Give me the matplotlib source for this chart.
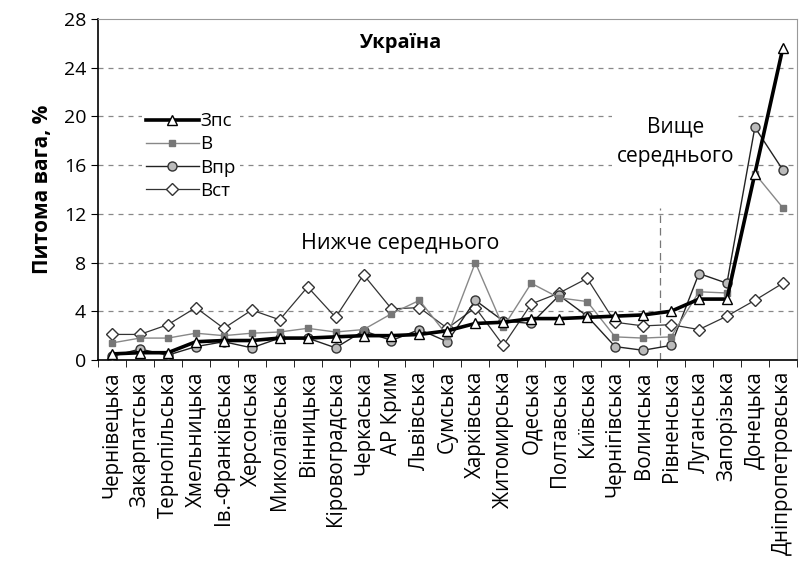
import numpy as np
import matplotlib
matplotlib.use('Agg')
import matplotlib.pyplot as plt

plt.rcParams['font.family'] = ['Open Sans', 'DejaVu Sans']

# Data
regions = ['Чернівецька', 'Закарпатська', 'Тернопільська', 'Хмельницька', 'Ів.-Франківська',
           'Херсонська', 'Миколаївська', 'Вінницька', 'Кіровоградська', 'Черкаська',
           'АР Крим', 'Львівська', 'Сумська', 'Харківська', 'Житомирська',
           'Одеська', 'Полтавська', 'Київська', 'Чернігівська', 'Волинська',
           'Рівненська', 'Луганська', 'Запорізька', 'Донецька', 'Дніпропетровська']
zps = [0.5, 0.6, 0.6, 1.5, 1.6, 1.6, 1.8, 1.8, 1.9, 2.0, 2.0, 2.1, 2.4, 3.0, 3.1,
       3.4, 3.4, 3.5, 3.6, 3.7, 4.0, 5.0, 5.0, 15.3, 25.6]
v = [1.4, 1.8, 1.8, 2.2, 2.0, 2.2, 2.3, 2.6, 2.3, 2.5, 3.8, 4.9, 2.0, 8.0, 2.7,
     6.3, 5.1, 4.8, 1.9, 1.8, 1.9, 5.6, 5.5, 15.3, 12.5]
vpr = [0.3, 0.9, 0.4, 1.1, 1.5, 1.0, 1.8, 1.8, 1.0, 2.4, 1.6, 2.5, 1.5, 4.9, 3.2,
       3.0, 5.3, 3.6, 1.1, 0.8, 1.2, 7.1, 6.3, 19.1, 15.6]
vst = [2.1, 2.1, 2.9, 4.3, 2.6, 4.1, 3.3, 6.0, 3.5, 7.0, 4.2, 4.3, 2.6, 4.3, 1.2,
       4.6, 5.5, 6.7, 3.1, 2.8, 2.9, 2.5, 3.6, 4.9, 6.3]

x = np.arange(len(regions))

fig = plt.figure(figsize=(8, 5.71), dpi=100)
ax = fig.add_axes([0.1225, 0.3695, 0.8735, 0.5975])

# grid
for yv in range(4, 28, 4):
    ax.axhline(yv, color='#888888', lw=0.9, ls=(0, (4, 4)), zorder=0)
ax.plot([19.6, 19.6], [0, 12.5], color='#777777', lw=0.9, ls=(0, (6, 4)), zorder=0)

ax.plot(x, vst, color='#333333', lw=0.9, marker='D', ms=6.5, mfc='white', mec='#333333',
        mew=1.0, label='Вст', zorder=2)
ax.plot(x, vpr, color='#222222', lw=1.0, marker='o', ms=6.5, mfc='#bbbbbb', mec='#333333',
        mew=1.0, label='Впр', zorder=3)
ax.plot(x, v, color='#888888', lw=1.0, marker='s', ms=4.5, mfc='#777777', mec='#777777',
        label='В', zorder=3)
ax.plot(x, zps, color='black', lw=2.6, marker='^', ms=7.5, mfc='white', mec='black',
        mew=1.0, label='Зпс', zorder=4)

ax.set_xlim(-0.5, len(regions) - 0.5)
ax.set_ylim(0, 28)
ax.set_yticks(np.arange(0, 29, 4))
ax.tick_params(axis='y', labelsize=14, direction='out', length=5)
ax.set_xticks(x)
ax.set_xticklabels(regions, rotation=90, fontsize=14.8)
ax.tick_params(axis='x', which='major', length=0, pad=8)
ax.set_xticks(np.arange(-0.5, len(regions), 1), minor=True)
ax.tick_params(axis='x', which='minor', length=5, direction='out')
ax.set_ylabel('Питома вага, %', fontsize=15, fontweight='bold', labelpad=8)

for s in ['top', 'right']:
    ax.spines[s].set_color('#999999')
for s in ['left', 'bottom']:
    ax.spines[s].set_linewidth(1.2)

bbox = dict(facecolor='white', edgecolor='none', pad=3)
ax.text(10.3, 26.0, 'Україна', fontsize=14.5, fontweight='bold', ha='center', va='center',
        bbox=bbox, zorder=1)
ax.text(10.3, 9.6, 'Нижче середнього', fontsize=15.5, ha='center', va='center',
        bbox=bbox, zorder=1)
ax.text(20.15, 17.9, 'Вище\nсереднього', fontsize=15, ha='center', va='center',
        bbox=bbox, zorder=1, linespacing=1.5)

handles, labels = ax.get_legend_handles_labels()
order = [3, 2, 1, 0]
leg = ax.legend([handles[i] for i in order], [labels[i] for i in order],
                loc='upper left', bbox_to_anchor=(0.05, 0.765), fontsize=13.5,
                frameon=True, facecolor='white', edgecolor='none', framealpha=1,
                handlelength=2.8, handletextpad=0.1, labelspacing=0.28, borderpad=0.2)
leg.set_zorder(6)

fig.savefig('out.png', dpi=100)
